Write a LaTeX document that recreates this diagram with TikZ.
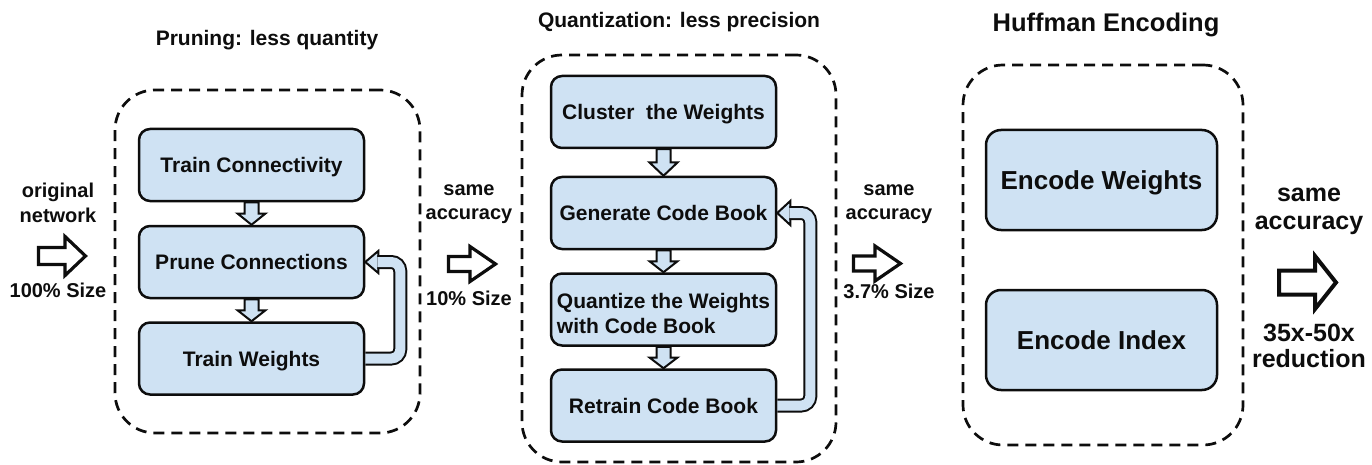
\documentclass[tikz,border=0pt]{standalone}
\usepackage{fontspec}
\setmainfont{Liberation Sans}
\usetikzlibrary{calc}
\definecolor{boxblue}{HTML}{CFE2F3}
\definecolor{ink}{HTML}{0D0D0D}
\newcommand{\vblock}[2]{%
  \draw[blockarrow] let \p1=(#1.south), \p2=(#2.north), \p3=($(\p1)!0.5!(\p2)$) in
   (\x1-7pt,\y1) -- (\x1+7pt,\y1) -- (\x1+7pt,\y3) -- (\x1+14pt,\y3) -- (\x1,\y2)
   -- (\x1-14pt,\y3) -- (\x1-7pt,\y3) -- cycle;}
% #1 x0, #2 yc, #3 xbase, #4 xtip, #5 shaft half, #6 head half, #7 line width
\newcommand{\hollowarrow}[7]{%
  \draw[bigarr, line width=#7] (#1,#2-#5) -- (#3,#2-#5) -- (#3,#2-#6) -- (#4,#2)
   -- (#3,#2+#6) -- (#3,#2+#5) -- (#1,#2+#5) -- cycle;}
\begin{document}
\begin{tikzpicture}[x=1pt,y=-1pt,
  stage/.style={draw=ink, line width=2.7pt, dash pattern=on 11pt off 7pt, rounded corners=40pt, inner sep=0pt},
  proc/.style={draw=ink, fill=boxblue, line width=2.5pt, rounded corners=11pt, inner sep=0pt, text=ink,
     font=\fontsize{21}{25}\selectfont\bfseries, text height=15pt, text depth=0pt,
     minimum width=225pt, minimum height=72pt},
  huff/.style={proc, rounded corners=15pt, font=\fontsize{26}{30}\selectfont\bfseries, text height=18.6pt,
     minimum width=231pt, minimum height=100pt},
  title/.style={anchor=base, text=ink, inner sep=0pt, font=\fontsize{21}{25}\selectfont\bfseries},
  side/.style={anchor=base, text=ink, inner sep=0pt, font=\fontsize{20}{24}\selectfont\bfseries},
  bigside/.style={side, font=\fontsize{25}{30}\selectfont\bfseries},
  blockarrow/.style={draw=ink, fill=boxblue, line width=2pt, line join=miter},
  bigarr/.style={draw=ink, fill=white, line join=miter},
  loopline/.style={draw=ink, line width=2pt, double=boxblue, double distance=10pt, rounded corners=9pt},
  loophead/.style={draw=ink, fill=boxblue, line width=2pt, line join=miter}]
\useasboundingbox (0,0) rectangle (1372,465);

% stage frames
\node[stage, minimum width=305pt, minimum height=343pt] (s1) at (267.5,261.5) {};
\node[stage, minimum width=314pt, minimum height=407pt] (s2) at (679,258.5) {};
\node[stage, minimum width=280pt, minimum height=380pt] (s3) at (1103,255) {};

% titles
\node[title] (t1) at (267,46) {Pruning: less quantity};
\node[title] (t2) at (679,28) {Quantization: less precision};
\node[title, font=\fontsize{25.5}{30}\selectfont\bfseries] (t3) at (1106,32) {Huffman Encoding};

% pruning
\node[proc] (tc) at (251.5,165) {Train Connectivity};
\node[proc] (pc) at (251.5,262) {Prune Connections};
\node[proc] (tw) at (251.5,358.5) {Train Weights};

% quantization
\node[proc] (cw) at (663.5,112) {Cluster\ \ the Weights};
\node[proc] (gc) at (663.5,213) {Generate Code Book};
\node[proc, text depth=18pt] (qw) at (663.5,309.5) {\begin{tabular}[t]{@{}l@{}}Quantize the Weights\\with Code Book\end{tabular}};
\node[proc] (rt) at (663.5,405.5) {Retrain Code Book};

% huffman
\node[huff] (ew) at (1101.5,180) {Encode Weights};
\node[huff] (ei) at (1101.5,340) {Encode Index};

% down arrows
\vblock{tc}{pc}
\vblock{pc}{tw}
\vblock{cw}{gc}
\vblock{gc}{qw}
\vblock{qw}{rt}

% feedback loops
\draw[loophead] (pc.east) -- ($(pc.east)+(13,-11)$) -- ($(pc.east)+(13,11)$) -- cycle;
\draw[loopline] (tw.east) -| ($(pc.east)+(35,0)$) -- ($(pc.east)+(12,0)$);
\draw[loophead] (gc.east) -- ($(gc.east)+(13,-12)$) -- ($(gc.east)+(13,12)$) -- cycle;
\draw[loopline] (rt.east) -| ($(gc.east)+(33,0)$) -- ($(gc.east)+(12,0)$);

% side labels
\node[side] (l1) at (58,197) {original};
\node[side] (l2) at (58,222) {network};
\node[side] (l3) at (58,297) {100\% Size};
\hollowarrow{38.5}{256}{65}{85.5}{8.5}{19.5}{3.2pt}

\node[side] (m1) at (469,196) {same};
\node[side] (m2) at (469,219) {accuracy};
\node[side] (m3) at (469,305) {10\% Size};
\hollowarrow{448.5}{264}{470}{495.5}{7.5}{17.5}{3.2pt}

\node[side] (n1) at (889,196) {same};
\node[side] (n2) at (889,219) {accuracy};
\node[side] (n3) at (889,298) {3.7\% Size};
\hollowarrow{853.5}{263.5}{875}{900.5}{7.5}{17.5}{3.2pt}

\node[bigside] (r1) at (1309,201) {same};
\node[bigside] (r2) at (1309,229) {accuracy};
\node[bigside] (r3) at (1309,341) {35x-50x};
\node[bigside] (r4) at (1309,367) {reduction};
\hollowarrow{1279}{282.5}{1315}{1336}{12}{26.5}{4pt}
\end{tikzpicture}
\end{document}
